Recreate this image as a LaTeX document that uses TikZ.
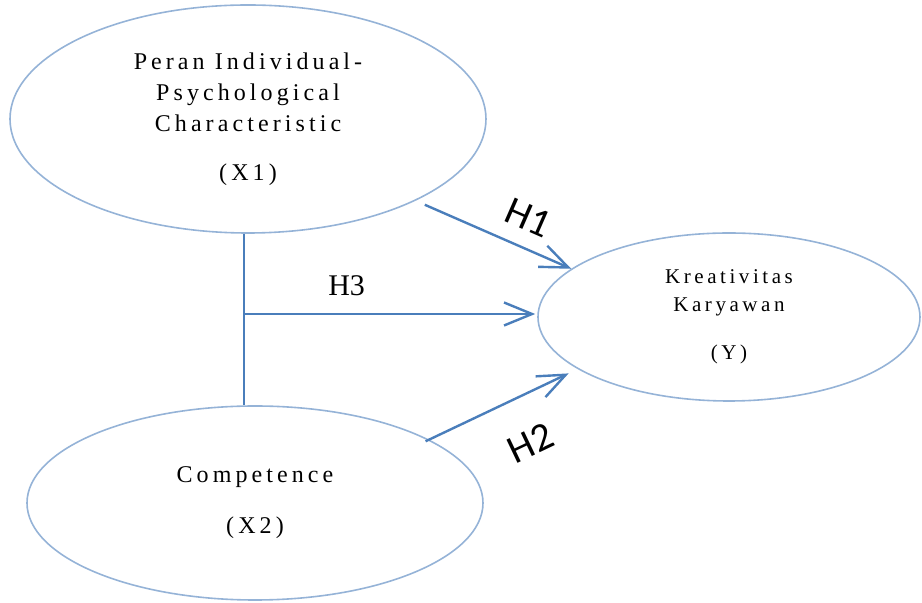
\documentclass[tikz,border=0pt]{standalone}
\usepackage{fontspec}
\setmainfont{Liberation Serif}
\newfontfamily\widefont[LetterSpace=17]{Liberation Serif}
\newfontfamily\calfont{Carlito}
\usepackage{tikz}
\usetikzlibrary{shapes.geometric, arrows.meta, positioning}
\definecolor{ellblue}{RGB}{149,179,215}
\definecolor{arrblue}{RGB}{74,126,187}
\tikzstyle{construct} = [ellipse, draw=ellblue, line width=0.8pt, inner sep=0pt, align=center, font=\widefont\fontsize{12}{15.5}\selectfont]
\tikzstyle{arrow} = [draw=arrblue, line width=1.2pt, -{Straight Barb[length=14pt,width=11.5pt]}]
\tikzstyle{link} = [draw=arrblue, line width=1.2pt]
\tikzstyle{hlabel} = [font=\calfont\fontsize{20}{22}\selectfont]

\begin{document}
\begin{tikzpicture}[node distance=192pt]
\useasboundingbox (-124pt,59.5pt) rectangle (337pt,-242pt);
\node (x1) [construct, minimum width=238pt, minimum height=114pt] {Peran Individual-\\Psychological\\Characteristic\\[9pt](X1)};
\node (x2) [construct, below of=x1, xshift=3.5pt, minimum width=228pt, minimum height=97pt] {Competence\\[10pt](X2)};
\node (y) [construct, right of=x1, xshift=48.5pt, yshift=-99pt, minimum width=191pt, minimum height=84pt, font=\widefont\fontsize{10.5}{14}\selectfont] {Kreativitas\\Karyawan\\[10pt](Y)};
\coordinate [below=97.5pt of x1.center, xshift=-2pt] (j3);
% paths
\draw [arrow, shorten <=5pt] (x1.-26) -- node[hlabel, sloped, above=4.3pt, pos=0.65] {H1} (y.163);
\draw [arrow, shorten <=-2pt, shorten >=5pt] (x2.20) -- node[hlabel, sloped, below=12.8pt, pos=0.55] {H2} (y.199);
\draw [link] (j3 |- x1.south) -- (j3 |- x2.north);
\draw [arrow, shorten >=1pt] (j3) -- node[above=5pt, pos=0.35, font=\fontsize{15}{18}\selectfont] {H3} (j3 -| y.west);
\end{tikzpicture}
\end{document}
